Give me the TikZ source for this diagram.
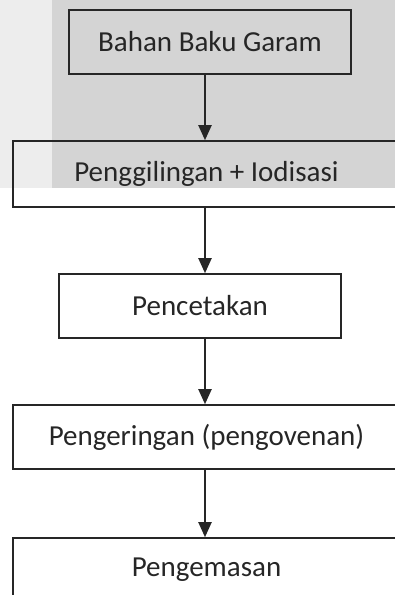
\documentclass[tikz,border=0pt]{standalone}
\usepackage{fontspec}
\setmainfont{Carlito}
\usetikzlibrary{arrows.meta}

\begin{document}
\begin{tikzpicture}[x=1pt,y=-1pt,
      box/.style={draw=black!85,line width=1.6pt,minimum height=64pt,inner sep=0pt,
        font=\fontsize{29}{34}\selectfont,text=black!85},
      flow/.style={draw=black!85,line width=2pt,-{Triangle[width=13pt,length=15pt]}}]
  \clip (0,0) rectangle (395,595);
  % shaded backdrop behind the first step
  \fill[black!7] (0,0) rectangle (52,188);
  \fill[black!17] (52,0) rectangle (395,188);
  \coordinate (axis) at (205,0);

  \node[box,minimum width=282pt] (bahan) at (210,42) {Bahan Baku Garam};
  \node[box,minimum width=387pt,minimum height=66pt] (giling) at (206.5,174) {Penggilingan + Iodisasi};
  \node[box,minimum width=282pt] (cetak) at (200,306) {Pencetakan};
  \node[box,minimum width=387pt] (kering) at (206.5,437) {Pengeringan (pengovenan)};
  \node[box,minimum width=387pt] (kemas) at (206.5,570) {Pengemasan};

  \draw[flow] (bahan.south -| axis) -- (giling.north -| axis);
  \draw[flow] (giling.south -| axis) -- (cetak.north -| axis);
  \draw[flow] (cetak.south -| axis) -- (kering.north -| axis);
  \draw[flow] (kering.south -| axis) -- (kemas.north -| axis);
\end{tikzpicture}
\end{document}
